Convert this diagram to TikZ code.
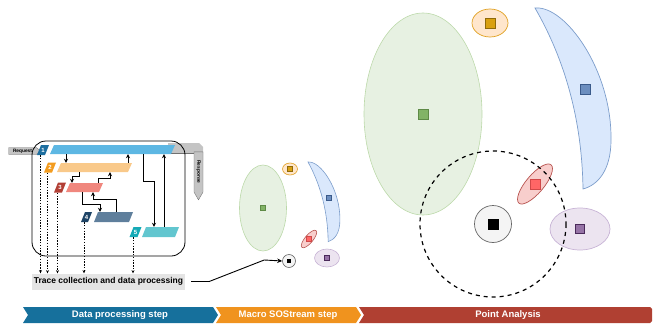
\documentclass[tikz,border=0pt]{standalone}
\usepackage{fontspec}
\setmainfont{Liberation Sans}
\usetikzlibrary{shapes.symbols,arrows.meta}

% process bars and tags
\definecolor{tagA}{HTML}{1E6FA0}\definecolor{barA}{HTML}{5DB7E3}
\definecolor{tagB}{HTML}{F39C1F}\definecolor{barB}{HTML}{F9C98A}
\definecolor{tagC}{HTML}{B23F35}\definecolor{barC}{HTML}{F0877E}
\definecolor{tagD}{HTML}{1E4466}\definecolor{barD}{HTML}{5F7F9C}
\definecolor{tagE}{HTML}{16AAB6}\definecolor{barE}{HTML}{62C6CF}
\definecolor{sigfill}{HTML}{C4C4C4}\definecolor{sigline}{HTML}{707070}
\definecolor{tracefill}{HTML}{E4E4E4}
% clusters
\definecolor{gfill}{HTML}{E7F1E2}\definecolor{gline}{HTML}{BCD9AA}
\definecolor{gsq}{HTML}{82B366}\definecolor{gsqd}{HTML}{5E8A46}
\definecolor{ofill}{HTML}{FFE6CC}\definecolor{oline}{HTML}{E0A020}
\definecolor{osq}{HTML}{D9A010}\definecolor{osqd}{HTML}{8F6A0A}
\definecolor{bfill}{HTML}{DAE8FC}\definecolor{bline}{HTML}{7C9DCB}
\definecolor{bsq}{HTML}{6C8EBF}\definecolor{bsqd}{HTML}{3A5A8A}
\definecolor{rfill}{HTML}{F8CECC}\definecolor{rline}{HTML}{B85450}
\definecolor{rsq}{HTML}{FF6666}\definecolor{rsqd}{HTML}{D04848}
\definecolor{pfill}{HTML}{ECE4F0}\definecolor{pline}{HTML}{C8B4D6}
\definecolor{psq}{HTML}{9673A6}\definecolor{psqd}{HTML}{4A2A5A}
\definecolor{cfill}{HTML}{F4F4F4}\definecolor{cline}{HTML}{666666}
% step banner
\definecolor{stepA}{HTML}{16709C}\definecolor{stepB}{HTML}{F0931E}\definecolor{stepC}{HTML}{B04032}

\begin{document}
\begin{tikzpicture}[x=1pt,y=-1pt,
  para/.style={rectangle, inner sep=0pt, minimum height=9pt,
    path picture={\fill[#1] (path picture bounding box.south west)
      -- ([xshift=-4pt]path picture bounding box.south east)
      -- (path picture bounding box.north east)
      -- ([xshift=4pt]path picture bounding box.north west) -- cycle;}},
  tagbox/.style={para=#1, minimum width=12pt, minimum height=10pt, text=white,
    font=\bfseries\fontsize{6}{6}\selectfont},
  conn/.style={-{Stealth[length=4pt,width=4pt]}, line width=0.75pt},
  trc/.style={-{Stealth[length=3.2pt,width=3pt]}, line width=0.5pt, dash pattern=on 1.4pt off 1.4pt},
  sig/.style={signal, signal to=east, fill=sigfill, draw=sigline,
    line width=0.35pt, inner sep=0.4pt, font=\bfseries\fontsize{4.8}{4.8}\selectfont},
  sq/.style={rectangle, minimum size=#1, inner sep=0pt, line width=0.6pt},
  steptext/.style={text=white, font=\bfseries\fontsize{9.5}{10}\selectfont},
  crescent/.pic={\path[pic actions] (0,0) .. controls (30,-3) and (77,62) .. (76,132)
     .. controls (76,162) and (63,177) .. (48,181)
     .. controls (47,112) and (30,52) .. (0,0) -- cycle;}
]
\useasboundingbox (0,0) rectangle (653,324);

% response band leaving the first bar
\fill[sigfill] (168,143) -- (199,143) -- (203,147) -- (203,160) -- (194,160) -- (194,153) -- (168,153) -- cycle;
\draw[sigline, line width=0.35pt] (168,153) -- (194,153);
\node[sig, signal pointer angle=60, rotate=-90, minimum height=9pt, minimum width=48pt] (resp) at (198.5,172) {Response};
\node[sig, signal pointer angle=75, minimum height=7pt, minimum width=32pt] (req) at (22.5,151) {Request};

% process frame
\draw[line width=0.8pt, rounded corners=14pt] (32,141) rectangle (185,256);

% bars and numbered tags
\node[para=barA, minimum width=125pt] (b1) at (112.5,149.5) {};
\node[para=barB, minimum width=75pt]  (b2) at (94.5,167.5) {};
\node[para=barC, minimum width=37pt]  (b3) at (84.5,187.5) {};
\node[para=barD, minimum width=39pt, minimum height=10pt] (b4) at (113.5,217) {};
\node[para=barE, minimum width=37pt, minimum height=10pt] (b5) at (160.5,232) {};
\node[tagbox=tagA] (t1) at (43,150) {1};
\node[tagbox=tagB] (t2) at (50,167.5) {2};
\node[tagbox=tagC] (t3) at (60,187.5) {3};
\node[tagbox=tagD, minimum width=11pt] (t4) at (86.5,217) {4};
\node[tagbox=tagE] (t5) at (135.5,232) {5};

% calls between the bars
\draw[conn] ([xshift=-46.5pt]b1.south) -- ([xshift=-28.5pt]b2.north);
\draw[conn] ([xshift=33.5pt]b2.north) -- ([xshift=15.5pt]b1.south);
\draw[conn] ([xshift=-15.5pt]b2.south) -- ++(0,4) -| ([xshift=-12.5pt]b3.north);
\draw[conn] ([xshift=13.5pt]b3.north) -- ++(0,-4) -| ([xshift=15.5pt]b2.south);
\draw[conn] ([xshift=-2.5pt]b3.south) -- ++(0,12) -| ([xshift=-13.5pt]b4.north);
\draw[conn] ([xshift=2.5pt]b4.north) -- ++(0,-12) -| ([xshift=8.5pt]b3.south);
\draw[conn] ([xshift=30.5pt]b1.south) -- ++(0,27) -| ([xshift=-6.5pt]b5.north);
\draw[conn] ([xshift=3.5pt]b5.north) -- ([xshift=51.5pt]b1.south);

% trace collection
\node[fill=tracefill, minimum width=153pt, minimum height=16pt, inner sep=0pt,
  font=\bfseries\fontsize{8.5}{10}\selectfont] (trace) at (108.5,281.5) {Trace collection and data processing};
\draw[trc] ([xshift=-2.5pt]t1.south) -- ([xshift=-68pt]trace.north);
\draw[trc] ([xshift=-2.5pt]t2.south) -- ([xshift=-61pt]trace.north);
\draw[trc] ([xshift=-2.5pt]t3.south) -- ([xshift=-51pt]trace.north);
\draw[trc] ([xshift=-2.5pt]t4.south) -- ([xshift=-24.5pt]trace.north);
\draw[trc] ([xshift=-2.5pt]t5.south) -- ([xshift=24.5pt]trace.north);

% macro clusters
\draw[fill=gfill, draw=gline, line width=0.6pt] (263,208) ellipse [x radius=23.5, y radius=43];
\draw[fill=ofill, draw=oline, line width=0.6pt] (290,169) ellipse [x radius=7.5, y radius=6];
\pic[fill=bfill, draw=bline, line width=0.6pt, xscale=0.42, yscale=0.44] at (308,162) {crescent};
\draw[fill=rfill, draw=rline, line width=0.6pt, rotate around={50:(309,239)}] (309,239) ellipse [x radius=11, y radius=4];
\draw[fill=pfill, draw=pline, line width=0.6pt] (327,258) ellipse [x radius=12.5, y radius=9];
\node[circle, minimum size=13pt, inner sep=0pt, fill=cfill, draw=cline, line width=0.6pt] (mc) at (289,261) {};
\node[sq=5pt, fill=gsq, draw=gsqd] (mg) at (263,208) {};
\node[sq=5pt, fill=osq, draw=osqd] (mo) at (290,169) {};
\node[sq=5pt, fill=bsq, draw=bsqd] (mb) at (329,198) {};
\node[sq=5pt, fill=rsq, draw=rsqd] (mr) at (309,239) {};
\node[sq=5pt, fill=psq, draw=psqd] (mp) at (327,258) {};
\node[sq=4.5pt, fill=black] (mk) at (mc) {};

\draw[line width=0.9pt, -{Stealth[length=5pt,width=4.5pt]}] ([xshift=6pt]trace.east) -- ++(18,0)
  -- ([xshift=-18pt,yshift=1pt]mc.west) -- (mc.west);

% point analysis
\draw[fill=gfill, draw=gline, line width=0.6pt] (423,114) ellipse [x radius=59, y radius=101];
\draw[fill=ofill, draw=oline, line width=0.7pt] (490,23) ellipse [x radius=18, y radius=14];
\pic[fill=bfill, draw=bline, line width=0.7pt] at (535,8) {crescent};
\draw[fill=rfill, draw=rline, line width=0.7pt, rotate around={50:(535,184)}] (535,184) ellipse [x radius=25, y radius=9];
\draw[fill=pfill, draw=pline, line width=0.7pt] (580,229) ellipse [x radius=30, y radius=21];
\node[circle, minimum size=37pt, inner sep=0pt, fill=cfill, draw=cline, line width=0.7pt] (pc) at (493,224) {};
\node[sq=10pt, fill=gsq, draw=gsqd] (pg) at (423,114) {};
\node[sq=10pt, fill=osq, draw=osqd] (po) at (490,23) {};
\node[sq=10pt, fill=bsq, draw=bsqd] (pb) at (585,89) {};
\node[sq=10pt, fill=rsq, draw=rsqd] (pr) at (535,184) {};
\node[sq=9pt, fill=psq, draw=psqd] (pp) at (580,229) {};
\node[sq=11pt, fill=black] (pk) at (pc) {};
\draw[line width=1.2pt, dash pattern=on 4pt off 4pt] (pc) circle [radius=73];

% step banner
\fill[stepA] (23,307) -- (213,307) -- (218,315) -- (213,323) -- (23,323) -- (28,315) -- cycle;
\fill[stepB] (216,307) -- (356,307) -- (361,315) -- (356,323) -- (216,323) -- (221,315) -- cycle;
\fill[stepC] (359,307) -- (650,307) -- (652,309) -- (652,321) -- (650,323) -- (359,323) -- (364,315) -- cycle;
\node[steptext] (s1) at (120,315.5) {Data processing step};
\node[steptext] (s2) at (288,315.5) {Macro SOStream step};
\node[steptext] (s3) at (508,315.5) {Point Analysis};
\end{tikzpicture}
\end{document}
